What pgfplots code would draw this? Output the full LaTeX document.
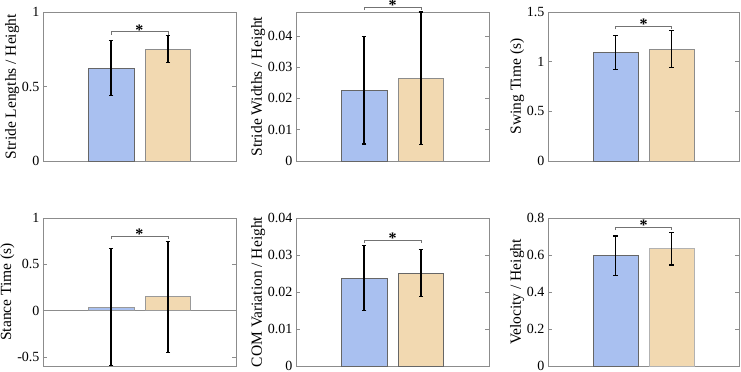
\documentclass[border=0pt]{standalone}
\usepackage{fontspec}
\setmainfont{Liberation Serif}
\usepackage{pgfplots}
\pgfplotsset{compat=1.18}
\definecolor{cblue}{HTML}{A9C0F0}
\definecolor{corange}{HTML}{F2D9B1}
\newcommand{\fs}{\fontsize{14bp}{16bp}\selectfont}
\newcommand{\fl}{\fontsize{15.5bp}{17bp}\selectfont}
\tikzset{sigstar/.style={font=\fontsize{16bp}{18bp}\selectfont\bfseries, anchor=base, yshift=-3.5bp}}
\pgfplotsset{
  panel/.style={scale only axis, width=193bp, height=149bp,
    xmin=-0.2, xmax=3.2, xtick=\empty, tick align=inside, ytick pos=both,
    major tick length=4bp, axis line style={black!45}, tick style={black!45, line width=0.4bp},
    clip=false, scaled y ticks=false,
    every tick label/.append style={font=\fs, text=black},
    ylabel style={font=\fl, yshift=-4bp},
    anchor=south west},
  barb/.style={ybar, bar width=0.8, bar shift=0pt, line width=0.5bp,
    error bars/y dir=both, error bars/y explicit,
    error bars/error bar style={line width=1.7bp, black},
    error bars/error mark=-, error bars/error mark options={rotate=90, line width=1.2bp, mark size=2.2bp, black}},
  brk/.style={black!55, line width=0.6bp, no marks},
}
\begin{document}
\begin{tikzpicture}
\useasboundingbox (0,0) rectangle (741bp,372bp);
% Panel 1
\begin{axis}[panel, at={(43bp,211bp)}, ymin=0, ymax=1, ytick={0,0.5,1}, yticklabels={0,0.5,1},
  ylabel={Stride Lengths / Height}]
\addplot[barb, fill=cblue, draw=black!60] coordinates {(1,0.622) += (0,0.188) -= (0,0.184)};
\addplot[barb, fill=corange, draw=black!45] coordinates {(2,0.750) += (0,0.091) -= (0,0.090)};
\addplot[brk] coordinates {(1,0.848) (1,0.868) (2,0.868) (2,0.848)};
\node[sigstar] at (axis cs:1.5,0.868) {*};
\end{axis}
% Panel 2
\begin{axis}[panel, at={(296bp,211bp)}, ymin=0, ymax=0.0476, ytick={0,0.01,0.02,0.03,0.04},
  yticklabels={0,0.01,0.02,0.03,0.04}, ylabel={Stride Widths / Height}]
\addplot[barb, fill=cblue, draw=black!60] coordinates {(1,0.0227) += (0,0.0170) -= (0,0.0173)};
\addplot[barb, fill=corange, draw=black!45] coordinates {(2,0.0264) += (0,0.0212) -= (0,0.0212)};
\addplot[brk] coordinates {(1,0.0482) (1,0.0492) (2,0.0492) (2,0.0482)};
\node[sigstar] at (axis cs:1.5,0.0492) {*};
\end{axis}
% Panel 3
\begin{axis}[panel, width=191bp, at={(548bp,211bp)}, ymin=0, ymax=1.5, ytick={0,0.5,1,1.5},
  yticklabels={0,0.5,1,1.5}, ylabel={Swing Time (s)}]
\addplot[barb, fill=cblue, draw=black!60] coordinates {(1,1.094) += (0,0.166) -= (0,0.174)};
\addplot[barb, fill=corange, draw=black!45] coordinates {(2,1.124) += (0,0.186) -= (0,0.181)};
\addplot[brk] coordinates {(1,1.326) (1,1.356) (2,1.356) (2,1.326)};
\node[sigstar] at (axis cs:1.5,1.356) {*};
\end{axis}
% Panel 4
\begin{axis}[panel, height=148bp, at={(43bp,6bp)}, ymin=-0.6, ymax=1, ytick={-0.5,0,0.5,1},
  yticklabels={-0.5,0,0.5,1}, ylabel={Stance Time (s)}]
\addplot[black!45, line width=0.5bp, no marks] coordinates {(-0.2,0) (3.2,0)};
\addplot[barb, fill=cblue, draw=black!40] coordinates {(1,0.035) += (0,0.635) -= (0,0.630)};
\addplot[barb, fill=corange, draw=black!40] coordinates {(2,0.150) += (0,0.600) -= (0,0.600)};
\addplot[brk] coordinates {(1,0.768) (1,0.800) (2,0.800) (2,0.768)};
\node[sigstar] at (axis cs:1.5,0.800) {*};
\end{axis}
% Panel 5
\begin{axis}[panel, height=148bp, at={(296bp,6bp)}, ymin=0, ymax=0.04, ytick={0,0.01,0.02,0.03,0.04},
  yticklabels={0,0.01,0.02,0.03,0.04}, ylabel={COM Variation / Height}]
\addplot[barb, fill=cblue, draw=black!60] coordinates {(1,0.0238) += (0,0.0088) -= (0,0.0089)};
\addplot[barb, fill=corange, draw=black!60] coordinates {(2,0.0251) += (0,0.0064) -= (0,0.0064)};
\addplot[brk] coordinates {(1,0.0332) (1,0.0340) (2,0.0340) (2,0.0332)};
\node[sigstar] at (axis cs:1.5,0.0340) {*};
\end{axis}
% Panel 6
\begin{axis}[panel, width=191bp, height=148bp, at={(548bp,6bp)}, ymin=0, ymax=0.8, ytick={0,0.2,0.4,0.6,0.8},
  yticklabels={0,0.2,0.4,0.6,0.8}, ylabel={Velocity / Height}]
\addplot[barb, fill=cblue, draw=black!60] coordinates {(1,0.596) += (0,0.107) -= (0,0.108)};
\addplot[barb, fill=corange, draw=black!30] coordinates {(2,0.634) += (0,0.089) -= (0,0.088)};
\addplot[brk] coordinates {(1,0.734) (1,0.750) (2,0.750) (2,0.734)};
\node[sigstar] at (axis cs:1.5,0.750) {*};
\end{axis}
\end{tikzpicture}
\end{document}
